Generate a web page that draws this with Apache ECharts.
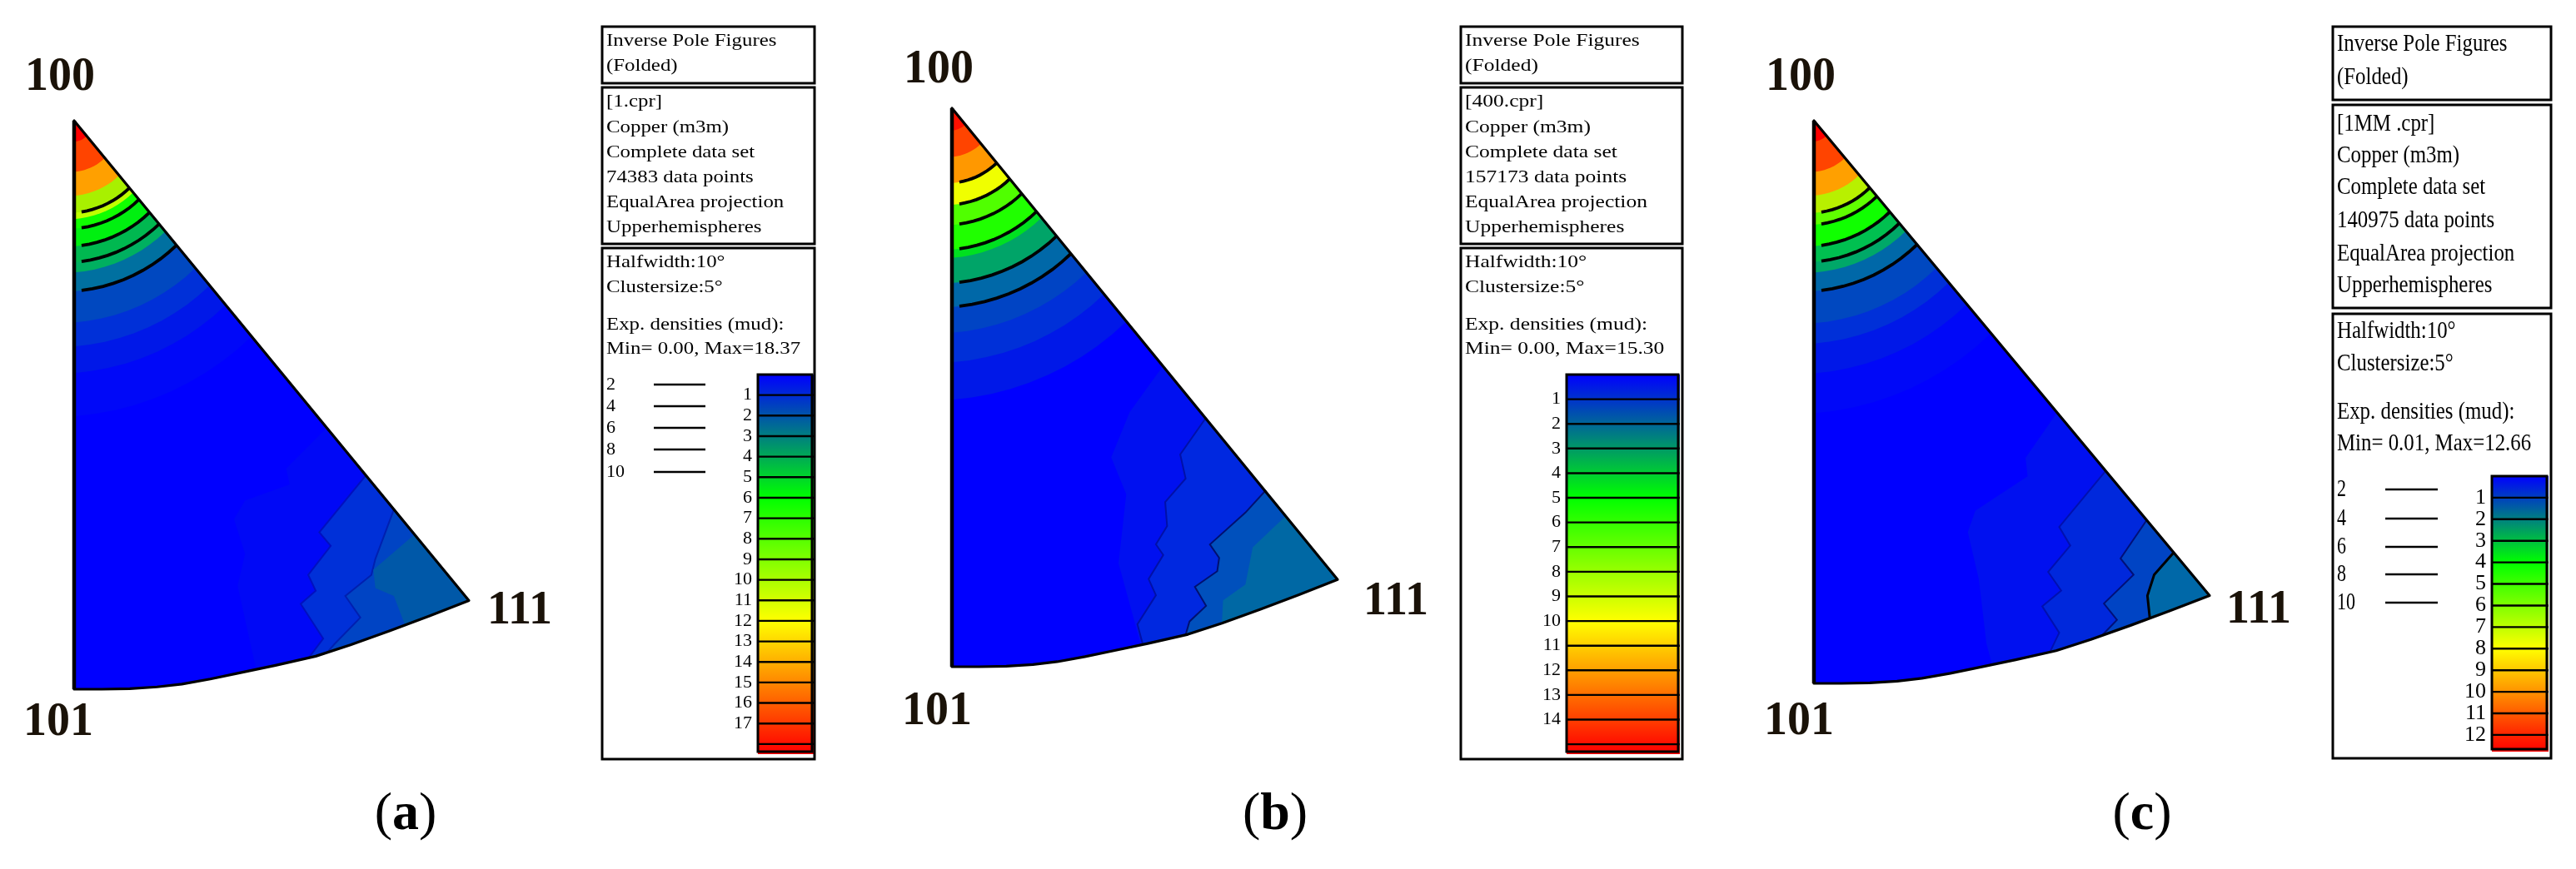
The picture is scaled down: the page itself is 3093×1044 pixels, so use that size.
<!DOCTYPE html>
<html>
<head>
<meta charset="utf-8">
<style>
html, body { margin: 0; background: #fff; }
#main { width: 3093px; height: 1044px; }
</style>
<script src="https://cdn.jsdelivr.net/npm/echarts@6/dist/echarts.min.js"></script>
</head>
<body>
<div id="main"></div>
<script>
// radii of the density bands round the 100 corner, as fraction of the 100-101 edge
const bandEndsA = [0.037, 0.090, 0.132, 0.162, 0.173, 0.190, 0.221, 0.249, 0.267, 0.300, 0.355, 0.397, 0.444, 0.520]
const bandEndsB = [0.040, 0.087, 0.134, 0.173, 0.209, 0.253, 0.268, 0.313, 0.356, 0.402, 0.455, 0.522]
const bandEndsC = [0.037, 0.091, 0.133, 0.164, 0.185, 0.223, 0.251, 0.270, 0.303, 0.360, 0.396, 0.449, 0.520]
const bandColorsA = ['#ff0000', '#ff4400', '#ffa000', '#a8f000', '#c0ff00', '#10ff00', '#00f010', '#00b850', '#00b060', '#0070a0', '#0048c0', '#0030d8', '#0018e8', '#0008f8']
const bandColorsB = ['#ff1000', '#ff4400', '#ff9800', '#f0ff00', '#50ff00', '#20ff00', '#00e020', '#00a468', '#0068a8', '#0044c4', '#0030d8', '#0018e8']
const bandColorsC = ['#ff0000', '#ff4400', '#ffa000', '#b8f000', '#60ff00', '#10ff00', '#00c050', '#00a868', '#0068a8', '#0048c0', '#0030d8', '#0018e8', '#0008f8']
const contourRadiiA = [0.162, 0.190, 0.221, 0.249, 0.300]
const contourRadiiB = [0.134, 0.173, 0.209, 0.253, 0.313, 0.356]
const contourRadiiC = [0.164, 0.185, 0.223, 0.251, 0.303]

// lower edge of the triangle, 101 to 111, in axis units
const lowerEdge = [[0, 0], [0.07, 0], [0.141, 0.001], [0.21, 0.004], [0.273, 0.009], [0.345, 0.018], [0.414, 0.028], [0.51, 0.042], [0.612, 0.058], [0.7, 0.078], [0.8, 0.103], [0.9, 0.129], [1, 0.156]]

// stepped contours near the 111 corner, from the 100-111 edge down to the lower edge
const tipContoursA = [
    [[0.640, 0.460], [0.537, 0.388], [0.546, 0.360], [0.433, 0.332], [0.405, 0.299], [0.433, 0.238], [0.414, 0.182], [0.461, 0.035]],
    [[0.739, 0.376], [0.621, 0.276], [0.650, 0.252], [0.593, 0.201], [0.612, 0.173], [0.574, 0.150], [0.631, 0.089], [0.593, 0.054]],
    [[0.810, 0.316], [0.763, 0.229], [0.753, 0.201], [0.687, 0.164], [0.725, 0.126], [0.659, 0.079], [0.640, 0.064]],
    [[0.862, 0.272], [0.758, 0.210], [0.763, 0.178], [0.810, 0.164], [0.838, 0.113]]
]
const tipContoursB = [
    [[0.548, 0.539], [0.461, 0.456], [0.413, 0.375], [0.452, 0.309], [0.432, 0.185], [0.490, 0.039]],
    [[0.659, 0.446], [0.592, 0.380], [0.606, 0.337], [0.553, 0.295], [0.558, 0.252], [0.529, 0.219], [0.548, 0.200], [0.510, 0.157], [0.529, 0.128], [0.481, 0.076], [0.495, 0.040]],
    [[0.814, 0.316], [0.761, 0.276], [0.669, 0.219], [0.693, 0.195], [0.688, 0.171], [0.630, 0.143], [0.659, 0.109], [0.616, 0.081], [0.606, 0.057]],
    [[0.867, 0.271], [0.780, 0.214], [0.761, 0.147], [0.703, 0.119], [0.700, 0.078]]
]
const tipContoursC = [
    [[0.615, 0.482], [0.535, 0.401], [0.540, 0.368], [0.408, 0.307], [0.389, 0.269], [0.417, 0.184], [0.436, 0.071], [0.450, 0.034]],
    [[0.738, 0.378], [0.620, 0.278], [0.648, 0.245], [0.592, 0.198], [0.625, 0.165], [0.577, 0.137], [0.620, 0.090], [0.596, 0.055]],
    [[0.842, 0.291], [0.775, 0.222], [0.808, 0.193], [0.733, 0.142], [0.766, 0.113], [0.728, 0.085]],
    [[0.910, 0.233], [0.860, 0.193], [0.843, 0.156], [0.849, 0.116]]
]
const tipColorsA = ['#0008f6', '#0030d8', '#0044c4', '#0058a8']
const tipColorsB = ['#0010f0', '#0028e0', '#0050bc', '#0068a4']
const tipColorsC = ['#0010f0', '#0028dc', '#0044c4', '#0068a8']
const tipLinesA = [null, '#0010c0', '#0020b0', null]
const tipLinesB = [null, '#0010a8', '#001070', null]
const tipLinesC = [null, '#0010b0', '#001078', '#000000']

// colour scale: density of the pure blue, green, yellow and red stops
const scaleMaxA = 18.37
const scaleMaxB = 15.30
const scaleMaxC = 12.66
const scaleStopsA = [0, 6, 12, 18.37]
const scaleStopsB = [0, 5, 10, 15.30]
const scaleStopsC = [0, 4, 8, 12.66]
const scaleColors = ['#0000ff', '#00ff00', '#ffff00', '#ff0000']
const lastLabelA = 17
const lastLabelB = 14
const lastLabelC = 12
const contourKeys = ['2', '4', '6', '8', '10']

const poleLabels = ['100', '101', '111']
const captions = ['a', 'b', 'c']
const headerLines = ['Inverse Pole Figures', '(Folded)']
const infoA = ['[1.cpr]', 'Copper (m3m)', 'Complete data set', '74383 data points', 'EqualArea projection', 'Upperhemispheres']
const infoB = ['[400.cpr]', 'Copper (m3m)', 'Complete data set', '157173 data points', 'EqualArea projection', 'Upperhemispheres']
const infoC = ['[1MM .cpr]', 'Copper (m3m)', 'Complete data set', '140975 data points', 'EqualArea projection', 'Upperhemispheres']
const densityA = ['Halfwidth:10°', 'Clustersize:5°', 'Exp. densities (mud):', 'Min= 0.00, Max=18.37']
const densityB = ['Halfwidth:10°', 'Clustersize:5°', 'Exp. densities (mud):', 'Min= 0.00, Max=15.30']
const densityC = ['Halfwidth:10°', 'Clustersize:5°', 'Exp. densities (mud):', 'Min= 0.01, Max=12.66']

const panels = [
    {
        bandEnds: bandEndsA, bandColors: bandColorsA, contourRadii: contourRadiiA,
        tip: tipContoursA, tipColors: tipColorsA, tipLines: tipLinesA,
        max: scaleMaxA, stops: scaleStopsA, lastLabel: lastLabelA, info: infoA, density: densityA, caption: captions[0],
        tri: { left: 89, top: 145, width: 474, height: 683 },
        bar: { left: 910, top: 450, width: 65, height: 453 }, barLabelSize: 22,
        poles: [[72, 94], [70, 869], [624, 735]], captionAt: [487, 979],
        boxX: 723, boxW: 255, boxY: [32, 100, 105, 293, 298, 912], textX: 728, textScale: [1.13, 1],
        lineY: [49, 79, 122, 153, 183, 213, 243, 273, 315, 345, 390, 419],
        keyY: [462, 488, 514, 540, 567], keyLine: [785, 847]
    },
    {
        bandEnds: bandEndsB, bandColors: bandColorsB, contourRadii: contourRadiiB,
        tip: tipContoursB, tipColors: tipColorsB, tipLines: tipLinesB,
        max: scaleMaxB, stops: scaleStopsB, lastLabel: lastLabelB, info: infoB, density: densityB, caption: captions[1],
        tri: { left: 1143, top: 130, width: 463, height: 671 },
        bar: { left: 1881, top: 450, width: 134, height: 453 }, barLabelSize: 22,
        poles: [[1127, 85], [1125, 856], [1676, 724]], captionAt: [1531, 979],
        boxX: 1754, boxW: 266, boxY: [32, 100, 105, 293, 298, 912], textX: 1759, textScale: [1.16, 1],
        lineY: [49, 79, 122, 153, 183, 213, 243, 273, 315, 345, 390, 419]
    },
    {
        bandEnds: bandEndsC, bandColors: bandColorsC, contourRadii: contourRadiiC,
        tip: tipContoursC, tipColors: tipColorsC, tipLines: tipLinesC,
        max: scaleMaxC, stops: scaleStopsC, lastLabel: lastLabelC, info: infoC, density: densityC, caption: captions[2],
        tri: { left: 2178, top: 145, width: 475, height: 676 },
        bar: { left: 2992, top: 572, width: 66, height: 328 }, barLabelSize: 26,
        poles: [[2162, 94], [2160, 868], [2712, 734]], captionAt: [2572, 979],
        boxX: 2801, boxW: 262, boxY: [32, 120, 126, 370, 377, 911], textX: 2806, textScale: [1.13, 1.35],
        lineY: [53, 93, 149, 187, 225, 265, 305, 343, 398, 437, 495, 533],
        keyY: [588, 623, 657, 690, 724], keyLine: [2864, 2927]
    }
]

function hex(c) {
    return [1, 3, 5].map(i => parseInt(c.substr(i, 2), 16))
}

function scaleColorAt(stops, v) {
    let i = 0
    while (i < stops.length - 2 && v > stops[i + 1]) i++
    const t = (v - stops[i]) / (stops[i + 1] - stops[i])
    const a = hex(scaleColors[i])
    const b = hex(scaleColors[i + 1])
    return 'rgb(' + a.map((x, k) => Math.round(x + (b[k] - x) * t)).join(',') + ')'
}

function renderTriangle(panel, api) {
    const apex = api.coord([0, 1])
    const base = api.coord([0, 0])
    const tip = api.coord([1, lowerEdge[lowerEdge.length - 1][1]])
    const leg = base[1] - apex[1]
    const thetaMax = Math.atan2(tip[0] - apex[0], tip[1] - apex[1])
    const children = []

    // contours run slightly flatter than a true circle round the 100 corner
    const arc = (r, startPx) => {
        const pts = []
        const n = 10
        const t0 = startPx ? Math.asin(startPx / (r * leg)) / thetaMax : 0
        for (let k = 0; k <= n; k++) {
            const t = t0 + (1 - t0) * k / n
            const len = r * leg * (1 - 0.055 * t)
            pts.push([apex[0] + len * Math.sin(t * thetaMax), apex[1] + len * Math.cos(t * thetaMax)])
        }
        return pts
    }

    const outline = [[0, 1]].concat(lowerEdge).map(p => api.coord(p))
    children.push({ type: 'polygon', shape: { points: outline }, style: { fill: '#0000ff' } })

    panel.tip.forEach((line, i) => {
        const end = line[line.length - 1][0]
        const rest = lowerEdge.filter(p => p[0] > end)
        const pts = line.concat(rest).map(p => api.coord(p))
        children.push({ type: 'polygon', shape: { points: pts }, style: { fill: panel.tipColors[i] } })
        if (panel.tipLines[i]) {
            children.push({
                type: 'polyline',
                shape: { points: line.map(p => api.coord(p)) },
                style: { fill: null, stroke: panel.tipLines[i], lineWidth: i === 3 ? 3 : 2 }
            })
        }
    })

    for (let i = panel.bandEnds.length - 1; i >= 0; i--) {
        children.push({
            type: 'polygon',
            shape: { points: [apex].concat(arc(panel.bandEnds[i])) },
            style: { fill: panel.bandColors[i] }
        })
    }
    panel.contourRadii.forEach(r => {
        children.push({
            type: 'polyline',
            shape: { points: arc(r, 9) },
            style: { fill: null, stroke: '#000', lineWidth: 3.8 }
        })
    })

    children.push({ type: 'polygon', shape: { points: outline }, style: { fill: null, stroke: '#000', lineWidth: 3.2, lineJoin: 'round' } })
    children.push({ type: 'line', shape: { x1: apex[0], y1: apex[1], x2: base[0], y2: base[1] }, style: { stroke: '#000', lineWidth: 4.5 } })
    return { type: 'group', children }
}

function renderScale(panel, params, api) {
    const lo = api.value(0)
    const hi = api.value(1)
    const a = api.coord([0, lo])
    const b = api.coord([1, hi])
    const last = params.dataIndex === params.dataInsideLength - 1
    const overhang = 2
    const drop = last ? 3 : 0
    const fill = new echarts.graphic.LinearGradient(0, 0, 0, 1, [
        { offset: 0, color: scaleColorAt(panel.stops, lo) },
        { offset: 1, color: scaleColorAt(panel.stops, hi) }
    ])
    const children = [{
        type: 'rect',
        shape: { x: a[0], y: a[1], width: b[0] - a[0] + overhang, height: b[1] - a[1] + drop },
        style: { fill }
    }]
    if (!last) {
        children.push({
            type: 'line', z2: 5,
            shape: { x1: a[0], y1: b[1], x2: b[0] + overhang, y2: b[1] },
            style: { stroke: '#000', lineWidth: 2.4 }
        })
    } else {
        const top = api.coord([0, 0])[1]
        children.push({
            type: 'rect', z2: 6,
            shape: { x: a[0], y: top, width: b[0] - a[0], height: b[1] - top },
            style: { fill: null, stroke: '#000', lineWidth: 3 }
        })
    }
    return { type: 'group', children }
}

function scaleBands(max) {
    const out = []
    for (let v = 0; v < max; v++) out.push([v, Math.min(v + 1, max)])
    return out
}

const grid = []
const xAxis = []
const yAxis = []
const series = []
const graphic = []

function textEl(x, y, text, font, scale, align) {
    return {
        type: 'text', x, y,
        scaleX: scale ? scale[0] : 1,
        scaleY: scale ? scale[1] : 1,
        z: 10,
        style: { text, font, fill: '#000', textAlign: align || 'left', textVerticalAlign: 'middle' }
    }
}

panels.forEach(panel => {
    // triangle
    let idx = grid.length
    grid.push(Object.assign({}, panel.tri))
    xAxis.push({ type: 'value', gridIndex: idx, min: 0, max: 1, show: false })
    yAxis.push({ type: 'value', gridIndex: idx, min: 0, max: 1, show: false })
    series.push({
        type: 'custom', xAxisIndex: idx, yAxisIndex: idx, clip: false, silent: true,
        coordinateSystem: 'cartesian2d',
        encode: { x: 0, y: 1 },
        data: [[0, 0]],
        renderItem: (params, api) => renderTriangle(panel, api)
    })

    // colour scale with its own density axis
    idx = grid.length
    grid.push(Object.assign({}, panel.bar))
    xAxis.push({ type: 'value', gridIndex: idx, min: 0, max: 1, show: false })
    yAxis.push({
        type: 'value', gridIndex: idx, min: 0, max: panel.max, interval: 1, inverse: true,
        axisLine: { show: false }, axisTick: { show: false }, splitLine: { show: false },
        axisLabel: {
            margin: 7, color: '#000', fontFamily: 'Liberation Serif', fontSize: panel.barLabelSize,
            showMinLabel: false, showMaxLabel: false,
            formatter: v => (v >= 1 && v <= panel.lastLabel ? String(v) : '')
        }
    })
    series.push({
        type: 'custom', xAxisIndex: idx, yAxisIndex: idx, clip: false, silent: true,
        coordinateSystem: 'cartesian2d',
        encode: { x: -1, y: [0, 1] },
        data: scaleBands(panel.max),
        renderItem: (params, api) => renderScale(panel, params, api)
    })

    // info boxes
    for (let i = 0; i < 3; i++) {
        graphic.push({
            type: 'rect', z: 9,
            shape: { x: panel.boxX, y: panel.boxY[i * 2], width: panel.boxW, height: panel.boxY[i * 2 + 1] - panel.boxY[i * 2] },
            style: { fill: null, stroke: '#000', lineWidth: 3 }
        })
    }
    const font = '22px "Liberation Serif"'
    headerLines.concat(panel.info, panel.density).forEach((line, i) => {
        graphic.push(textEl(panel.textX, panel.lineY[i], line, font, panel.textScale))
    })
    if (panel.keyY) {
        panel.keyY.forEach((y, i) => {
            graphic.push(textEl(panel.textX, y, contourKeys[i], font, [1, panel.textScale[1]]))
            graphic.push({
                type: 'line', z: 9,
                shape: { x1: panel.keyLine[0], y1: y, x2: panel.keyLine[1], y2: y },
                style: { stroke: '#000', lineWidth: 2.6 }
            })
        })
    }

    poleLabels.forEach((label, i) => {
        graphic.push({
            type: 'text', x: panel.poles[i][0], y: panel.poles[i][1], z: 10,
            style: { text: label, font: 'bold 56px "Liberation Serif"', fill: '#1a1208', textAlign: 'center', textVerticalAlign: 'middle' }
        })
    })
    graphic.push({
        type: 'text', x: panel.captionAt[0], y: panel.captionAt[1], z: 10,
        style: {
            text: '(' + '{b|' + panel.caption + '}' + ')',
            font: '64px "Liberation Serif"', fill: '#000', textAlign: 'center', textVerticalAlign: 'middle',
            rich: { b: { font: 'bold 64px "Liberation Serif"', fill: '#000' } }
        }
    })
})

const chart = echarts.init(document.getElementById('main'))
chart.setOption({
    animation: false,
    backgroundColor: '#fff',
    grid, xAxis, yAxis, series, graphic
})
</script>
</body>
</html>
